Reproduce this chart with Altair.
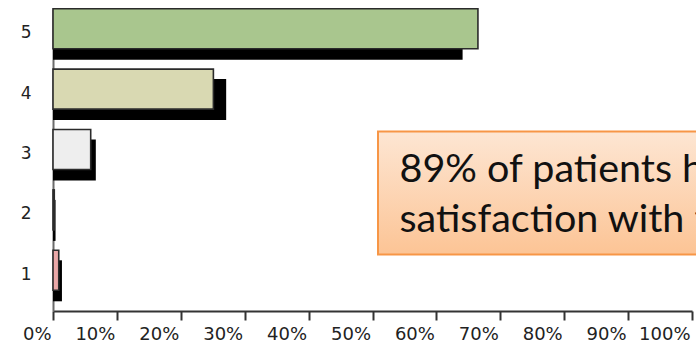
import altair as alt
import pandas as pd

# Satisfaction scores (5 = highest) and share of responses
scores = ["5", "4", "3", "2", "1"]
current_share = [0.665, 0.251, 0.059, 0.002, 0.009]
benchmark_share = [0.641, 0.271, 0.067, 0.004, 0.014]
bar_colors = ["#a9c68e", "#d9d9b2", "#eeeeee", "#eeeeee", "#eaa8a8"]
tick_values = [0, 0.1, 0.2, 0.3, 0.4, 0.5, 0.6, 0.7, 0.8, 0.9, 1.0]

callout_lines = ["89% of patients had high", "satisfaction with the service"]

df = pd.DataFrame({
    "score": scores,
    "current": current_share,
    "benchmark": benchmark_share,
    "color": bar_colors,
})

AXIS_FONT = "DejaVu Sans"

y_enc = alt.Y(
    "score:N",
    sort=scores,
    scale=alt.Scale(paddingInner=0, paddingOuter=0),
    axis=alt.Axis(
        title=None, ticks=False, labelPadding=22, labelOffset=-6,
        labelFont=AXIS_FONT, labelFontSize=17, labelColor="#222222",
        domainColor="#6b6b6b", domainWidth=2, labelAngle=0,
    ),
)

x_scale = alt.Scale(domain=[0, 1], nice=False, zero=True)

benchmark = alt.Chart(df).mark_bar(size=41, color="#000000").encode(
    x=alt.X(
        "benchmark:Q",
        scale=x_scale,
        axis=alt.Axis(
            title=None, values=tick_values, format=".0%", grid=False,
            tickSize=9, tickColor="#333333", tickWidth=2,
            domainColor="#333333", domainWidth=2,
            labelAlign="right", labelOffset=-2, labelPadding=5,
            labelFont=AXIS_FONT, labelFontSize=18, labelColor="#222222",
            labelFlush=False, labelOverlap=False,
        ),
    ),
    y=y_enc,
)

current = alt.Chart(df).mark_bar(
    size=40, yOffset=-10.5, stroke="#2b2b2b", strokeWidth=1.6
).encode(
    x=alt.X("current:Q", scale=x_scale),
    y=y_enc,
    fill=alt.Fill("color:N", scale=None),
)

# Callout box with a soft orange gradient
callout_box = alt.Chart(pd.DataFrame({"k": [0]})).mark_rect(
    stroke="#f79646",
    strokeWidth=2,
    fill=alt.Gradient(
        gradient="linear",
        x1=0, y1=0, x2=0, y2=1,
        stops=[
            alt.GradientStop(offset=0, color="#fde6d3"),
            alt.GradientStop(offset=1, color="#fcc495"),
        ],
    ),
).encode(
    x=alt.value(325), x2=alt.value(720),
    y=alt.value(122.5), y2=alt.value(245.5),
)

callout_df = pd.DataFrame({"line": callout_lines, "row": [0, 1]})
callout_text = alt.Chart(callout_df).mark_text(
    align="left", baseline="alphabetic", font="Lato", fontSize=39.5, color="#111111"
).encode(
    x=alt.value(346.5),
    y=alt.Y("row:Q", scale=alt.Scale(domain=[0, 1], range=[172.7, 222.7]), axis=None),
    text="line:N",
)

chart = alt.layer(benchmark, current).resolve_scale(y="shared")
full = alt.layer(chart, callout_box, callout_text).resolve_scale(y="independent").properties(
    width=639,
    height=302,
    padding={"left": 53, "top": 9, "right": 4, "bottom": 33},
    autosize=alt.AutoSizeParams(type="none"),
    background="#ffffff",
).configure_view(strokeWidth=0, stroke="transparent")

full.save("out.html", embed_options={"renderer": "svg", "actions": False})
